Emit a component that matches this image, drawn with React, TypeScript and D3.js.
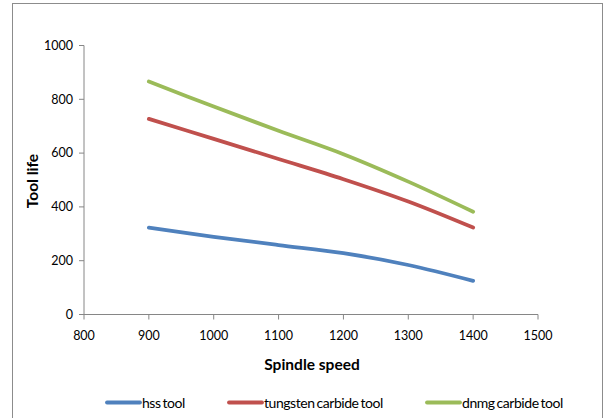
import React from "react";
import * as d3 from "d3";

const speeds = [900, 1000, 1100, 1200, 1300, 1400];
const hssTool = [323, 289, 258, 228, 184, 125];
const tungstenCarbide = [727, 653, 578, 503, 420, 323];
const dnmgCarbide = [866, 773, 683, 596, 494, 382];
const seriesNames = ["hss tool", "tungsten carbide tool", "dnmg carbide tool"];
const seriesColors = ["#4F81BD", "#C0504D", "#9BBB59"];
const xTicks = [800, 900, 1000, 1100, 1200, 1300, 1400, 1500];
const yTicks = [0, 200, 400, 600, 800, 1000];

const W = 604;
const H = 418;
const FONT = "Lato, 'Open Sans', sans-serif";

export default function App() {
  const x = d3.scaleLinear().domain([800, 1500]).range([84, 538]);
  const y = d3.scaleLinear().domain([0, 1000]).range([314.5, 45.5]);
  const seriesData = [hssTool, tungstenCarbide, dnmgCarbide];
  const line = d3
    .line<[number, number]>()
    .x((d) => x(d[0]))
    .y((d) => y(d[1]))
    .curve(d3.curveCatmullRom.alpha(0.5));
  const axisColor = "#868686";
  const legendX = [107, 229, 427];
  return (
    <svg
      width={W}
      height={H}
      style={{ position: "absolute", left: 0, top: 0, background: "#fff" }}
      fontFamily={FONT}
    >
      <rect x={12.5} y={3.5} width={590} height={430} fill="#fff" stroke="#8c8c8c" strokeWidth={1} />
      {/* y axis */}
      <line x1={84} x2={84} y1={y(1000)} y2={y(0)} stroke={axisColor} strokeWidth={1} />
      {yTicks.map((t) => (
        <g key={t}>
          <line x1={79} x2={84} y1={y(t)} y2={y(t)} stroke={axisColor} />
          <text x={73} y={y(t)} dy="0.35em" textAnchor="end" fontSize={12.5} fill="#000">
            {t}
          </text>
        </g>
      ))}
      {/* x axis */}
      <line x1={x(800)} x2={x(1500)} y1={y(0)} y2={y(0)} stroke={axisColor} strokeWidth={1} />
      {xTicks.map((t) => (
        <g key={t}>
          <line x1={x(t)} x2={x(t)} y1={y(0)} y2={y(0) + 5} stroke={axisColor} />
          <text x={x(t)} y={340} textAnchor="middle" fontSize={12.5} fill="#000">
            {t}
          </text>
        </g>
      ))}
      <text x={312} y={370} textAnchor="middle" fontSize={15.5} fontWeight="bold" fill="#000">
        Spindle speed
      </text>
      <text
        transform={`translate(38,181) rotate(-90)`}
        textAnchor="middle"
        fontSize={15.5}
        fontWeight="bold"
        fill="#000"
      >
        Tool life
      </text>
      {seriesData.map((vals, i) => (
        <path
          key={i}
          d={line(speeds.map((s, j) => [s, vals[j]] as [number, number])) || ""}
          fill="none"
          stroke={seriesColors[i]}
          strokeWidth={3.8}
          strokeLinecap="round"
        />
      ))}
      {seriesNames.map((n, i) => (
        <g key={n}>
          <line
            x1={legendX[i]}
            x2={legendX[i] + 33}
            y1={402.5}
            y2={402.5}
            stroke={seriesColors[i]}
            strokeWidth={3.8}
            strokeLinecap="round"
          />
          <text x={legendX[i] + 35} y={408} fontSize={14} fill="#000" letterSpacing={-0.45} wordSpacing={-1.2}>
            {n}
          </text>
        </g>
      ))}
    </svg>
  );
}
